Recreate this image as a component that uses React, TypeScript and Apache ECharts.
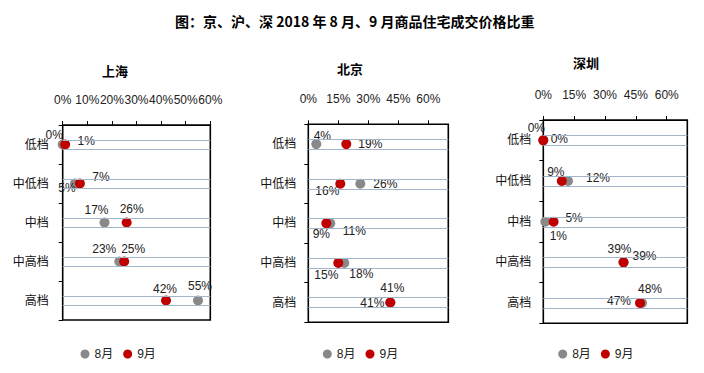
import React, { useEffect, useRef } from "react";
import * as echarts from "echarts";

const categories = ["低档", "中低档", "中档", "中高档", "高档"];
const seriesNames = ["8月", "9月"];

const shAug = [0, 5, 17, 23, 55];
const shSep = [1, 7, 26, 25, 42];
const bjAug = [4, 26, 11, 18, 41];
const bjSep = [19, 16, 9, 15, 41];
const szAug = [0, 12, 1, 39, 48];
const szSep = [0, 9, 5, 39, 47];

const shTicks = [0, 10, 20, 30, 40, 50, 60];
const bjTicks = [0, 15, 30, 45, 60];
const szTicks = [0, 15, 30, 45, 60];

const mainTitle = "图：京、沪、深 2018 年 8 月、9 月商品住宅成交价格比重";
const panelTitles = ["上海", "北京", "深圳"];

// label offsets (styling only)
const labelOffsets = {
  shAug: [[-8.5, -10], [-8, 4], [-8, -13], [-15, -13], [2, -15]],
  shSep: [[21, -4], [21, -7], [5, -14], [9, -13], [-1, -12]],
  bjAug: [[6, -8.5], [25, 0], [24, 8], [17, 11], [2, -15]],
  bjSep: [[24, 0], [-13, 7], [-5, 11], [-12, 12], [-18, 0]],
  szAug: [[-7, -12], [30, -3], [13, 14], [-4, -13], [8, -14]],
  szSep: [[16, -1], [-6, -9], [20.5, -4], [21, -6], [-21, -2]],
};

const FONT = "'Liberation Sans', 'Noto Sans CJK SC', sans-serif";
const GRAY = "#898989";
const RED = "#c00000";
const BLUE = "#a3b5c9";

const panels = [
  { left: 62.7, top: 125, width: 147.6, height: 195, max: 60, interval: 10, ticks: shTicks, aug: shAug, sep: shSep, oa: labelOffsets.shAug, os: labelOffsets.shSep, tx: 115, ty: 70.7, lg: 80.5, cm: 14 },
  { left: 308.3, top: 124.3, width: 140, height: 198, max: 70, interval: 15, ticks: bjTicks, aug: bjAug, sep: bjSep, oa: labelOffsets.bjAug, os: labelOffsets.bjSep, tx: 350, ty: 68.3, lg: 322.8, cm: 12 },
  { left: 543.3, top: 120, width: 144, height: 203.3, max: 70, interval: 15, ticks: szTicks, aug: szAug, sep: szSep, oa: labelOffsets.szAug, os: labelOffsets.szSep, tx: 586, ty: 62.5, lg: 558.2, cm: 12 },
];

export default function App() {
  const ref = useRef<HTMLDivElement>(null);
  useEffect(() => {
    if (!ref.current) return;
    const chart = echarts.init(ref.current, undefined, { renderer: "svg" });

    const grids: any[] = [];
    const xAxes: any[] = [];
    const yAxes: any[] = [];
    const series: any[] = [];
    const legends: any[] = [];
    const graphics: any[] = [
      {
        type: "text",
        x: 354.7,
        y: 21,
        style: { text: mainTitle, font: "bold 14px 'Noto Sans CJK SC', sans-serif", fill: "#000", align: "center", verticalAlign: "middle" },
      },
    ];

    const bandLines: any[] = [];
    categories.forEach((_, i) => {
      bandLines.push({ yAxis: i + 0.5 - 0.125 });
      bandLines.push({ yAxis: i + 0.5 + 0.125 });
    });

    panels.forEach((p, k) => {
      grids.push({
        left: p.left,
        top: p.top,
        width: p.width,
        height: p.height,
        show: true,
        borderColor: "#000",
        borderWidth: 1.6,
        backgroundColor: "transparent",
      });
      xAxes.push({
        type: "value",
        gridIndex: k,
        position: "top",
        min: 0,
        max: p.max,
        interval: p.interval,
        axisLine: { show: true, lineStyle: { color: "#000", width: 1 } },
        axisTick: { show: true, inside: false, length: 4, lineStyle: { color: "#000" }, customValues: p.ticks },
        axisLabel: { formatter: "{value}%", fontSize: 12, color: "#222", fontFamily: FONT, margin: 19, customValues: p.ticks },
        splitLine: { show: false },
      });
      yAxes.push({
        type: "category",
        gridIndex: k,
        data: categories,
        inverse: true,
        boundaryGap: true,
        axisLine: { show: true, lineStyle: { color: "#000", width: 1 } },
        axisTick: { show: true, inside: false, length: 4, lineStyle: { color: "#000" } },
        axisLabel: { fontSize: 12, color: "#111", fontFamily: FONT, margin: p.cm },
        splitLine: { show: false },
      });
      yAxes.push({
        type: "value",
        gridIndex: k,
        min: 0,
        max: categories.length,
        inverse: true,
        show: false,
        splitLine: { show: false },
      });
      const catIdx = k * 2;
      const valIdx = k * 2 + 1;
      series.push({
        type: "scatter",
        name: "__lines" + k,
        xAxisIndex: k,
        yAxisIndex: valIdx,
        data: [],
        silent: true,
        markLine: {
          silent: true,
          symbol: ["none", "none"],
          label: { show: false },
          lineStyle: { color: BLUE, type: "solid", width: 1 },
          data: bandLines,
        },
        z: 1,
      });
      const mk = (name: string, vals: number[], offs: number[][], color: string) => ({
        type: "scatter",
        name,
        xAxisIndex: k,
        yAxisIndex: catIdx,
        symbol: "circle",
        symbolSize: 10,
        itemStyle: { color, opacity: 1 },
        z: 3,
        label: {
          show: true,
          position: "inside",
          color: "#222",
          fontSize: 12,
          fontFamily: FONT,
          formatter: (d: any) => d.value[0] + "%",
        },
        data: vals.map((v, i) => ({ value: [v, categories[i]], label: { offset: offs[i] } })),
      });
      series.push(mk(seriesNames[0], p.aug, p.oa, GRAY));
      series.push(mk(seriesNames[1], p.sep, p.os, RED));
      legends.push({
        data: seriesNames,
        left: p.lg,
        top: 348,
        padding: 0,
        icon: "circle",
        itemWidth: 9,
        itemHeight: 9,
        itemGap: 10,
        textStyle: { fontSize: 12, color: "#222", fontFamily: FONT },
      });
      graphics.push({
        type: "text",
        x: p.tx,
        y: p.ty,
        style: { text: panelTitles[k], font: "bold 13px 'Noto Sans CJK SC', sans-serif", fill: "#000", align: "center", verticalAlign: "middle" },
      });
    });

    chart.setOption({
      animation: false,
      backgroundColor: "#fff",
      grid: grids,
      xAxis: xAxes,
      yAxis: yAxes,
      legend: legends,
      series,
      graphic: graphics,
    });
    return () => chart.dispose();
  }, []);
  return <div ref={ref} style={{ position: "fixed", left: 0, top: 0, width: 704, height: 373 }} />;
}
